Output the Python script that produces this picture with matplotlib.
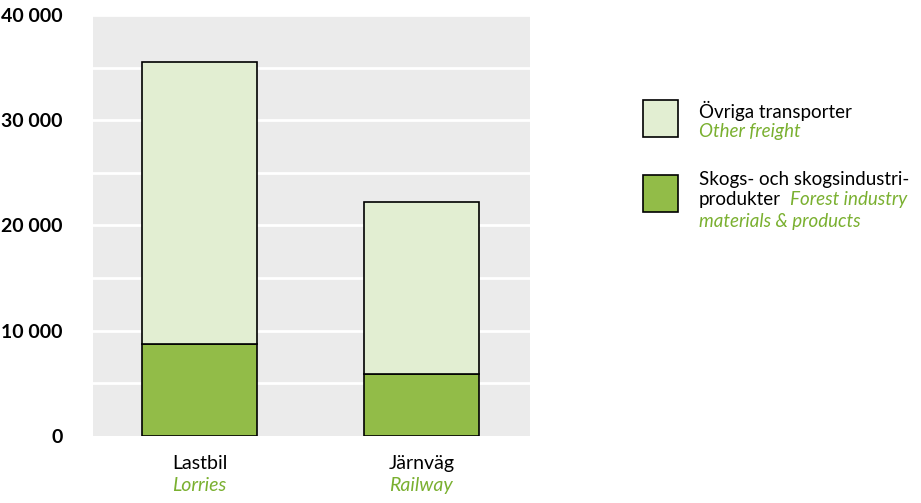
import matplotlib
matplotlib.use("Agg")
import matplotlib.pyplot as plt
from matplotlib.patches import Rectangle
import matplotlib.transforms as mtransforms

plt.rcParams['font.family'] = ['Lato', 'DejaVu Sans']

# data
kategorier = ["Lastbil", "Järnväg"]
kategorier_en = ["Lorries", "Railway"]
skog = [8700, 5900]          # Skogs- och skogsindustriprodukter
ovriga = [26800, 16300]      # Övriga transporter
yticks = [0, 10000, 20000, 30000, 40000]

ljus = "#e2eed2"
mork = "#92bc48"
gron_text = "#7ab030"
fs = 14

fig = plt.figure(figsize=(9.21, 5.03), dpi=100)
ax = fig.add_axes([93 / 921, 67 / 503, 437 / 921, 421 / 503])
ax.set_facecolor("#ebebeb")

x = list(range(len(kategorier)))
ax.bar(x, skog, width=0.52, color=mork, edgecolor="black", linewidth=1.2, zorder=3)
ax.bar(x, ovriga, bottom=skog, width=0.52, color=ljus, edgecolor="black", linewidth=1.2, zorder=3)

ax.set_xlim(-0.48, 1.49)
ax.set_ylim(0, 40000)
for y in range(5000, 40001, 5000):
    ax.axhline(y, color="white", linewidth=2, zorder=1)
ax.set_yticks(yticks)
ax.set_yticklabels([f"{v:,}".replace(",", " ") for v in yticks], fontsize=fs, fontweight="bold")
ax.tick_params(axis="y", length=0, pad=22)
ax.set_xticks([])
for s in ax.spines.values():
    s.set_visible(False)

trans = mtransforms.blended_transform_factory(ax.transData, ax.transAxes)
for i, (sv, en) in enumerate(zip(kategorier, kategorier_en)):
    ax.text(i, -0.065, sv, transform=trans, ha="center", va="center", fontsize=fs)
    ax.text(i, -0.117, en, transform=trans, ha="center", va="center", fontsize=fs,
            style="italic", color=gron_text)

# legend
W, H = 921, 503
def fx(px):
    return px / W
def fy(py):
    return 1 - py / H

lfs = 13.5
fig.add_artist(Rectangle((fx(643), fy(137)), 35 / W, 37 / H, transform=fig.transFigure,
                         facecolor=ljus, edgecolor="black", linewidth=1.2))
fig.add_artist(Rectangle((fx(643), fy(212)), 35 / W, 37 / H, transform=fig.transFigure,
                         facecolor=mork, edgecolor="black", linewidth=1.2))
fig.text(fx(699), fy(111), "Övriga transporter", fontsize=lfs, va="center")
fig.text(fx(699), fy(132), "Other freight", fontsize=lfs, va="center", style="italic", color=gron_text)
fig.text(fx(699), fy(179), "Skogs- och skogsindustri-", fontsize=lfs, va="center")
fig.text(fx(699), fy(200), "produkter", fontsize=lfs, va="center")
fig.text(fx(790), fy(200), "Forest industry", fontsize=lfs, va="center", style="italic", color=gron_text)
fig.text(fx(699), fy(221), "materials & products", fontsize=lfs, va="center", style="italic", color=gron_text)

fig.savefig("out.png", dpi=100)
